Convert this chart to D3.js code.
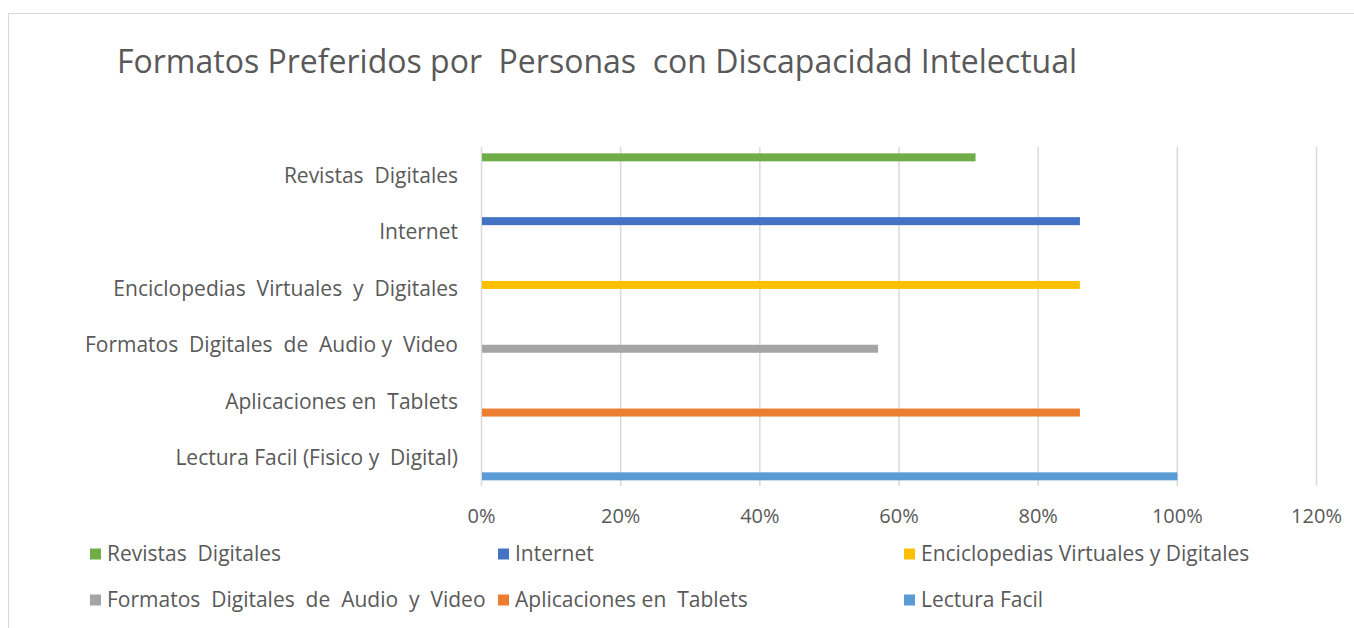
<!DOCTYPE html>
<html lang="es">
<head>
<meta charset="utf-8">
<title>Formatos Preferidos</title>
<script src="https://d3js.org/d3.v7.min.js"></script>
<style>
  body { margin: 0; background: #fff; }
  svg text { font-family: 'Open Sans', sans-serif; fill: #595959; white-space: pre; }
</style>
</head>
<body>
<div id="chart"></div>
<script>
// categorias del eje (de arriba hacia abajo)
var categories = [
  "Revistas  Digitales",
  "Internet",
  "Enciclopedias  Virtuales  y  Digitales",
  "Formatos  Digitales  de  Audio y  Video",
  "Aplicaciones en  Tablets",
  "Lectura Facil (Fisico y  Digital)"
];
// nombres de series (leyenda)
var seriesNames = [
  "Revistas  Digitales",
  "Internet",
  "Enciclopedias Virtuales y Digitales",
  "Formatos  Digitales  de  Audio  y  Video",
  "Aplicaciones en  Tablets",
  "Lectura Facil"
];
// cada serie tiene un valor solo en su categoria
var values = [0.71, 0.86, 0.86, 0.57, 0.86, 1.0];
var colors = ["#70AD47", "#4472C4", "#FFC000", "#A5A5A5", "#ED7D31", "#5B9BD5"];
var ticks = [0, 0.2, 0.4, 0.6, 0.8, 1.0, 1.2];

var W = 1354, H = 628;
var svg = d3.select("#chart").append("svg")
  .attr("width", W).attr("height", H);

// marco del grafico
svg.append("rect")
  .attr("x", 8.5).attr("y", 13.5)
  .attr("width", W).attr("height", H)
  .attr("fill", "#fff").attr("stroke", "#D9D9D9");

svg.append("text")
  .attr("x", 117).attr("y", 73)
  .style("font-size", "32px")
  .text("Formatos Preferidos por  Personas  con Discapacidad Intelectual");

var x = d3.scaleLinear().domain([0, 1.2]).range([481.5, 1316.5]);
var y = d3.scaleBand().domain(categories).range([147, 486]);
var inner = d3.scaleBand().domain(seriesNames).range([0, y.bandwidth()]).paddingOuter(0.87);

// rejilla
svg.append("g").selectAll("line")
  .data(ticks)
  .enter().append("line")
  .attr("x1", function(d){ return x(d); })
  .attr("x2", function(d){ return x(d); })
  .attr("y1", 147).attr("y2", 486)
  .attr("stroke", "#D9D9D9").attr("stroke-width", 1.5);

svg.append("g").selectAll("text")
  .data(ticks)
  .enter().append("text")
  .attr("x", function(d){ return x(d); })
  .attr("y", 523)
  .attr("text-anchor", "middle")
  .style("font-size", "20px")
  .text(d3.format(".0%"));

svg.append("g").selectAll("text")
  .data(categories)
  .enter().append("text")
  .attr("x", 458)
  .attr("y", function(d){ return y(d) + y.bandwidth() / 2; })
  .attr("dy", "0.35em")
  .attr("text-anchor", "end")
  .style("font-size", "21px")
  .text(function(d){ return d; });

// barras
svg.append("g").selectAll("rect")
  .data(values)
  .enter().append("rect")
  .attr("x", x(0) + 0.5)
  .attr("y", function(d, i){ return y(categories[i]) + inner(seriesNames[i]); })
  .attr("width", function(d){ return x(d) - x(0) - 0.5; })
  .attr("height", inner.bandwidth() + 0.7)
  .attr("fill", function(d, i){ return colors[i]; });

// leyenda
var colX = [90, 498, 904], rowY = [554, 600];
var leg = svg.append("g").selectAll("g")
  .data(seriesNames)
  .enter().append("g")
  .attr("transform", function(d, i){
    return "translate(" + colX[i % 3] + "," + rowY[Math.floor(i / 3)] + ")";
  });
leg.append("rect")
  .attr("x", 0).attr("y", -5.5)
  .attr("width", 11).attr("height", 11)
  .attr("fill", function(d, i){ return colors[i]; });
leg.append("text")
  .attr("x", 17).attr("dy", "0.35em")
  .style("font-size", "21px")
  .text(function(d){ return d; });
</script>
</body>
</html>
